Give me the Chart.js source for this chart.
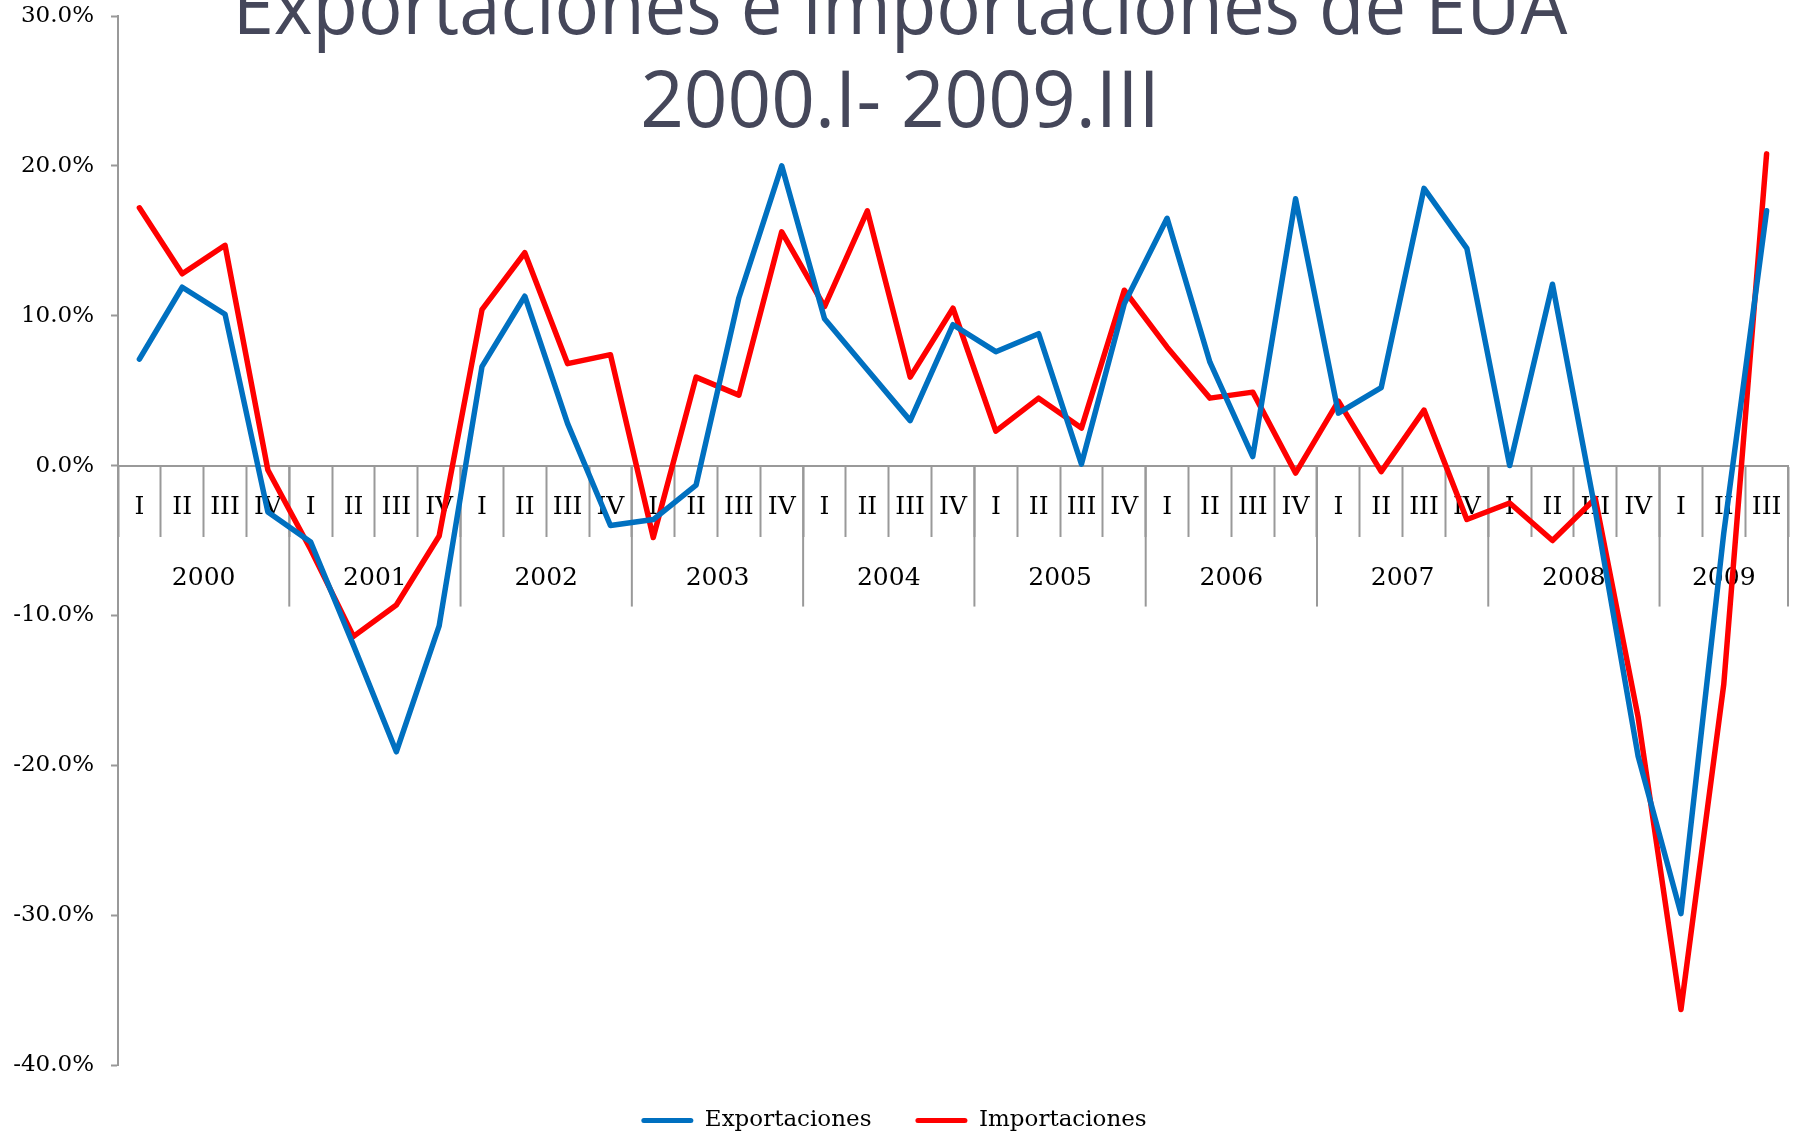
<!DOCTYPE html>
<html lang="es">
<head>
<meta charset="utf-8">
<title>Exportaciones e Importaciones de EUA</title>
<script src="https://cdn.jsdelivr.net/npm/chart.js@4.4.1/dist/chart.umd.min.js"></script>
<style>
  html, body { margin: 0; padding: 0; background: #fff; }
  canvas { display: block; }
</style>
</head>
<body>
<canvas id="chart" width="1800" height="1131"></canvas>
<script>
// Trimestres 2000.I - 2009.III
const QUARTER_LABELS = [
  "I", "II", "III", "IV", "I", "II", "III", "IV", "I", "II", "III", "IV",
  "I", "II", "III", "IV", "I", "II", "III", "IV", "I", "II", "III", "IV",
  "I", "II", "III", "IV", "I", "II", "III", "IV", "I", "II", "III", "IV",
  "I", "II", "III"
];
const YEAR_LABELS = ["2000", "2001", "2002", "2003", "2004", "2005", "2006", "2007", "2008", "2009"];
const YEAR_QUARTERS = [4, 4, 4, 4, 4, 4, 4, 4, 4, 3];

const exportaciones = [
  7.1, 11.9, 10.1, -3.1, -5.1, -12.0, -19.1, -10.7, 6.6, 11.3, 2.8, -4.0,
  -3.6, -1.3, 11.2, 20.0, 9.8, 6.4, 3.0, 9.4, 7.6, 8.8, 0.1, 10.8,
  16.5, 6.9, 0.6, 17.8, 3.5, 5.2, 18.5, 14.5, 0.0, 12.1, -3.0, -19.4,
  -29.9, -4.5, 17.0
];
const importaciones = [
  17.2, 12.8, 14.7, -0.3, -5.6, -11.4, -9.3, -4.7, 10.4, 14.2, 6.8, 7.4,
  -4.8, 5.9, 4.7, 15.6, 10.6, 17.0, 5.9, 10.5, 2.3, 4.5, 2.5, 11.7,
  7.9, 4.5, 4.9, -0.5, 4.3, -0.4, 3.7, -3.6, -2.5, -5.0, -2.2, -16.8,
  -36.3, -14.6, 20.8
];
const Y_TICKS = [-40, -30, -20, -10, 0, 10, 20, 30];
const TITLE_LINES = ["Exportaciones e Importaciones de EUA", "2000.I- 2009.III"];

const AXIS_COLOR = "#999999";
const SERIF = "'DejaVu Serif', 'Liberation Serif', serif";

// Segundo nivel del eje: separadores y etiquetas de año
const yearAxis = {
  id: "yearAxis",
  beforeDatasetsDraw(chart) {
    const xs = chart.scales.x;
    const ys = chart.scales.y;
    const ctx = chart.ctx;
    const y0 = ys.getPixelForValue(0);
    const half = (xs.getPixelForValue(1) - xs.getPixelForValue(0)) / 2;
    ctx.save();
    ctx.strokeStyle = AXIS_COLOR;
    ctx.lineWidth = 2;
    ctx.fillStyle = "#000";
    ctx.font = `25px ${SERIF}`;
    ctx.textAlign = "center";
    ctx.textBaseline = "middle";
    let start = 0;
    YEAR_LABELS.forEach((label, k) => {
      const end = start + YEAR_QUARTERS[k] - 1;
      const xr = xs.getPixelForValue(end) + half;
      ctx.beginPath();
      ctx.moveTo(xr, y0);
      ctx.lineTo(xr, y0 + 141);
      ctx.stroke();
      const xc = (xs.getPixelForValue(start) + xs.getPixelForValue(end)) / 2;
      ctx.fillText(label, xc, y0 + 113);
      start = end + 1;
    });
    ctx.restore();
  }
};

// Título superpuesto al área del gráfico
const overlayTitle = {
  id: "overlayTitle",
  beforeDatasetsDraw(chart) {
    const ctx = chart.ctx;
    const squeeze = [0.95, 0.98];
    ctx.save();
    ctx.fillStyle = "#45475a";
    ctx.font = "78px 'Open Sans', sans-serif";
    ctx.textAlign = "center";
    ctx.textBaseline = "alphabetic";
    TITLE_LINES.forEach((line, i) => {
      ctx.save();
      ctx.translate(chart.width / 2, 34 + i * 93);
      ctx.scale(squeeze[i], 1);
      ctx.fillText(line, 0, 0);
      ctx.restore();
    });
    ctx.restore();
  }
};

new Chart(document.getElementById("chart"), {
  type: "line",
  data: {
    labels: QUARTER_LABELS,
    datasets: [
      {
        label: "Exportaciones",
        data: exportaciones,
        borderColor: "#0070C0",
        backgroundColor: "#0070C0",
        borderWidth: 5.5,
        pointRadius: 0,
        tension: 0,
        fill: false,
        borderJoinStyle: "round",
        borderCapStyle: "round",
      },
      {
        label: "Importaciones",
        data: importaciones,
        borderColor: "#FF0000",
        backgroundColor: "#FF0000",
        borderWidth: 5.5,
        pointRadius: 0,
        tension: 0,
        fill: false,
        borderJoinStyle: "round",
        borderCapStyle: "round",
      },
    ],
  },
  options: {
    responsive: false,
    animation: false,
    layout: { padding: { top: 16, right: 12, bottom: -11, left: 0 } },
    plugins: {
      title: { display: false },
      tooltip: { enabled: false },
      legend: {
        position: "bottom",
        labels: {
          boxWidth: 52,
          boxHeight: 5,
          padding: 44,
          color: "#000",
          useBorderRadius: true,
          font: { family: SERIF, size: 23 },
          generateLabels: (chart) =>
            chart.data.datasets.map((ds, i) => ({
              text: ds.label,
              fillStyle: ds.borderColor,
              strokeStyle: ds.borderColor,
              lineWidth: 0,
              borderRadius: 2.5,
              hidden: false,
              datasetIndex: i,
            })),
        },
      },
    },
    scales: {
      x: {
        position: { y: 0 },
        offset: true,
        grid: {
          offset: true,
          drawOnChartArea: false,
          drawTicks: true,
          tickLength: 70,
          tickWidth: 2,
          tickColor: AXIS_COLOR,
          color: AXIS_COLOR,
        },
        border: { color: AXIS_COLOR, width: 2 },
        ticks: {
          autoSkip: false,
          maxRotation: 0,
          padding: -43,
          color: "#000",
          font: { family: SERIF, size: 25 },
        },
      },
      y: {
        min: -40,
        max: 30,
        afterBuildTicks: (scale) => {
          scale.ticks = Y_TICKS.map((v) => ({ value: v }));
        },
        afterFit: (scale) => {
          scale.width = 118;
          scale.paddingTop = 8;
          scale.paddingBottom = 8;
        },
        grid: {
          drawOnChartArea: false,
          drawTicks: true,
          tickLength: 7,
          tickWidth: 2,
          tickColor: AXIS_COLOR,
          color: AXIS_COLOR,
        },
        border: { color: AXIS_COLOR, width: 2 },
        ticks: {
          padding: 17,
          color: "#000",
          font: { family: SERIF, size: 23 },
          callback: (v) => v.toFixed(1) + "%",
        },
      },
    },
  },
  plugins: [yearAxis, overlayTitle],
});
</script>
</body>
</html>
